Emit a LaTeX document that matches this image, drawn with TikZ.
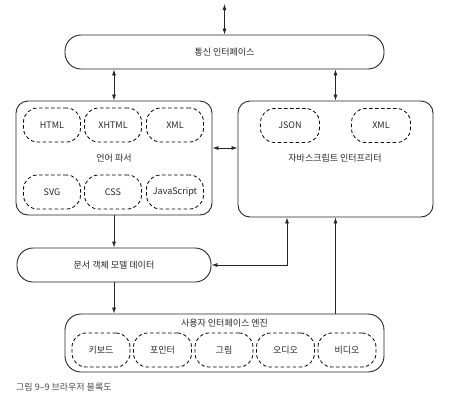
\documentclass[tikz,border=0pt]{standalone}
\usepackage{fontspec}
\setmainfont{Noto Sans CJK KR}
\usetikzlibrary{arrows.meta}
\definecolor{ink}{HTML}{262626}
\definecolor{capgray}{HTML}{4A4A4A}
\begin{document}
\begin{tikzpicture}[x=1pt,y=-1pt,
  font=\fontsize{9}{10.5}\selectfont, text=ink,
  block/.style={draw=ink, line width=0.9pt, inner sep=0pt},
  pill/.style={block, rounded corners=16pt},
  panel/.style={block, rounded corners=12pt},
  part/.style={draw=black, line width=0.8pt, dash pattern=on 3.5pt off 2.5pt,
    rounded corners=14pt, minimum width=57pt, minimum height=34pt, inner sep=0pt},
  link/.style={draw=ink, line width=0.8pt, -{Latex[length=6pt,width=4pt]}},
  link2/.style={link, {Latex[length=6pt,width=4pt]}-{Latex[length=6pt,width=4pt]}}
]
\useasboundingbox (0,0) rectangle (451,405);

% main blocks
\node[pill, minimum width=319pt, minimum height=34pt] (comm) at (224.5,52) {통신 인터페이스};
\node[panel, minimum width=196pt, minimum height=114pt] (parser) at (114,158) {};
\node[panel, minimum width=195pt, minimum height=116pt] (js) at (335.5,159) {};
\node[pill, minimum width=194pt, minimum height=34pt] (dom) at (114,265) {문서 객체 모델 데이터};
\node[pill, minimum width=319pt, minimum height=58pt] (ui) at (224.5,343) {};

% language parser contents
\node at (114,158) (parserlbl) {언어 파서};
\node[part] (html) at (52,125) {HTML};
\node[part] (xhtml) at (113,125) {XHTML};
\node[part] (xml) at (175,125) {XML};
\node[part] (svg) at (52,192) {SVG};
\node[part] (css) at (113,192) {CSS};
\node[part] (jscript) at (175,192) {JavaScript};

% JavaScript interpreter contents
\node at (335,158) (jslbl) {자바스크립트 인터프리터};
\node[part, minimum width=59pt] (json) at (290,125.5) {JSON};
\node[part, minimum width=59pt] (jsxml) at (381,125.5) {XML};

% user interface engine contents
\node at (224.5,323) (uilbl) {사용자 인터페이스 엔진};
\node[part, minimum width=58pt] (kbd) at (101,350) {키보드};
\node[part, minimum width=58pt] (ptr) at (162.5,350) {포인터};
\node[part, minimum width=58pt] (img) at (224,350) {그림};
\node[part, minimum width=58pt] (aud) at (285.5,350) {오디오};
\node[part, minimum width=58pt] (vid) at (347,350) {비디오};

% connectors
\coordinate (net) at (224.5,4);
\coordinate (pj) at (225,148);
\coordinate (jsdom) at (287,0);
\draw[link2] (net) -- (comm.north);
\draw[link2] (comm.south -| parser.north) -- (parser.north);
\draw[link2] (comm.south -| js.north) -- (js.north);
\draw[link2] (parser.east |- pj) -- (js.west |- pj);
\draw[link] (parser.south) -- (dom.north);
\draw[link] (dom.south) -- (dom.south |- ui.north);
\draw[link2] (dom.east) -| (js.south -| jsdom);
\draw[link] (ui.north -| js.south) -- (js.south);

% caption
\node[anchor=west, text=capgray, inner sep=0pt] (cap) at (16,387) {그림 9–9 브라우저 블록도};
\end{tikzpicture}
\end{document}
